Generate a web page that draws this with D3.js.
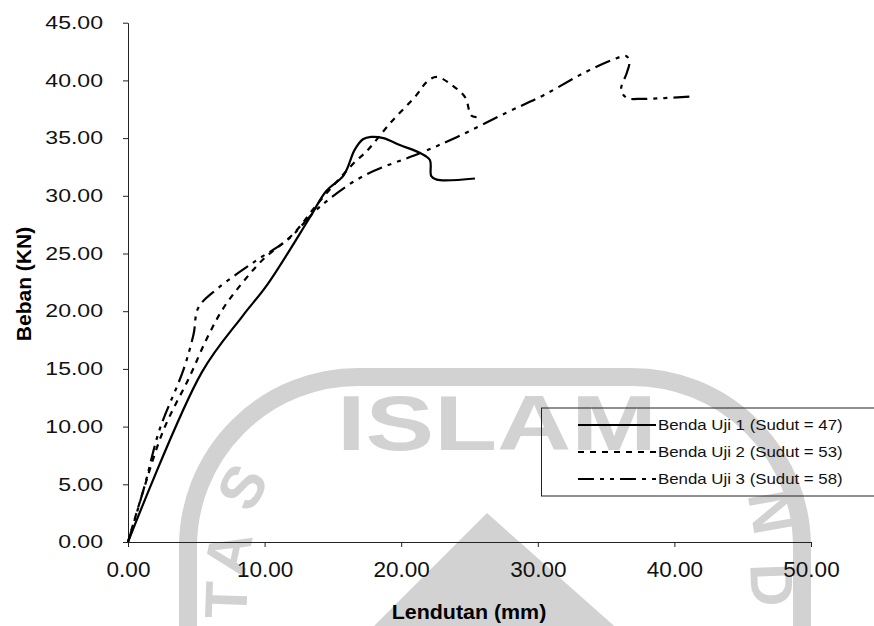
<!DOCTYPE html>
<html>
<head>
<meta charset="utf-8">
<script src="https://cdn.jsdelivr.net/npm/d3@7"></script>
<style>
  body { margin: 0; background: #fff; }
  text { font-family: "Liberation Sans", Arial, sans-serif; }
</style>
</head>
<body>
<div id="chart"></div>
<script>
// chart size
var w = 874;
var h = 626;

// data: deflection (mm) / load (kN)
var s1x = [0, 5.4, 8.4, 10.2, 13.3, 14.5, 15.8, 16.6, 17.2, 17.8, 18.7, 19.9, 21.4, 22.1, 22.2, 22.6, 25.4];
var s1y = [0, 14.7, 19.6, 22.3, 28.1, 30.4, 31.8, 34.0, 34.9, 35.1, 35.0, 34.4, 33.7, 33.1, 31.7, 31.4, 31.5];

var s2x = [0, 0.9, 2.6, 4.5, 5.8, 7.0, 8.4, 9.9, 12.1, 13.8, 16.5, 17.5, 19.2, 21.1, 21.9, 22.6, 23.7, 24.7, 25.0, 25.2, 25.8];
var s2y = [0, 3.6, 9.7, 14.3, 17.7, 20.3, 22.5, 24.5, 26.7, 29.2, 32.8, 33.9, 36.3, 38.7, 39.9, 40.3, 39.6, 38.5, 37.3, 36.9, 36.8];

var s3x = [0, 1.2, 2.3, 4.05, 4.8, 5.15, 6.6, 9.4, 11.7, 14.0, 17.2, 21.4, 24.1, 27.7, 30.4, 33.3, 35.5, 36.5, 36.7, 36.5, 36.1, 36.5, 37.7, 41.1];
var s3y = [0, 4.8, 9.7, 14.9, 18.0, 20.3, 22.0, 24.4, 26.2, 29.0, 31.7, 33.7, 35.1, 37.2, 38.7, 40.6, 41.8, 42.1, 41.5, 40.6, 39.2, 38.5, 38.4, 38.6];

var names = ["Benda Uji 1 (Sudut = 47)", "Benda Uji 2 (Sudut = 53)", "Benda Uji 3 (Sudut = 58)"];
var xTicks = [0, 10, 20, 30, 40, 50];
var yTicks = [0, 5, 10, 15, 20, 25, 30, 35, 40, 45];

var dashes = [null, "6,6", "16,6,4,6,4,6"];

function pts(xs, ys) {
  return xs.map(function(v, i) { return [v, ys[i]]; });
}
var series = [pts(s1x, s1y), pts(s2x, s2y), pts(s3x, s3y)];

// scan text is stretched sideways a bit
function stretch(sel, k) {
  sel.each(function() {
    var len = this.getComputedTextLength();
    d3.select(this).attr("textLength", len * k).attr("lengthAdjust", "spacingAndGlyphs");
  });
}

var svg = d3.select("#chart").append("svg")
    .attr("width", w)
    .attr("height", h);

// faint watermark from the scanned page
var wm = svg.append("g").attr("fill", "#d2d2d2").attr("stroke", "none");
wm.append("path")
  .attr("d", "M188,640 L188,547 A170,170 0 0 1 358,377 L632,377 A170,170 0 0 1 802,547 L802,640")
  .attr("fill", "none").attr("stroke", "#d2d2d2").attr("stroke-width", 18);
wm.append("path").attr("d", "M360,640 L487,513 L630,640 Z");
wm.append("text").attr("x", 337).attr("y", 450)
  .attr("font-size", 77).attr("font-weight", "bold").text("ISLAM")
  .attr("textLength", 320).attr("lengthAdjust", "spacingAndGlyphs");
[["S", 242, 487, -60], ["A", 228, 553, -78], ["T", 226, 600, -88], ["N", 772, 512, 80], ["D", 772, 585, 88]]
  .forEach(function(l) {
    wm.append("text")
      .attr("transform", "translate(" + l[1] + "," + l[2] + ") rotate(" + l[3] + ")")
      .attr("text-anchor", "middle").attr("dy", "0.35em")
      .attr("font-size", 60).attr("font-weight", "bold").text(l[0]);
  });

// scales
var x = d3.scaleLinear().domain([0, 50]).range([128, 811]);
var y = d3.scaleLinear().domain([0, 45]).range([542, 22.7]);

// axes
var gx = svg.append("g").attr("transform", "translate(0," + y(0) + ")")
  .call(d3.axisBottom(x).tickValues(xTicks).tickFormat(d3.format(".2f")).tickSize(5).tickSizeOuter(0).tickPadding(14));
gx.select(".domain").attr("stroke", "#222");
gx.selectAll(".tick line").attr("stroke", "#222");
gx.selectAll("text").attr("font-size", 22.5).attr("fill", "#111").attr("font-family", null);

var gy = svg.append("g").attr("transform", "translate(" + x(0) + ",0)")
  .call(d3.axisLeft(y).tickValues(yTicks).tickFormat(d3.format(".2f")).tickSize(5).tickSizeOuter(0).tickPadding(20));
gy.select(".domain").attr("stroke", "#222");
gy.selectAll(".tick line").attr("stroke", "#222");
gy.selectAll("text").attr("font-size", 18).attr("fill", "#111").attr("font-family", null);
stretch(gy.selectAll("text"), 1.28);

// axis titles
svg.append("text")
  .attr("x", 469).attr("y", 619)
  .attr("text-anchor", "middle")
  .attr("font-size", 20).attr("font-weight", "bold")
  .text("Lendutan (mm)")
  .call(stretch, 1.07);

svg.append("text")
  .attr("transform", "translate(31,284) rotate(-90)")
  .attr("text-anchor", "middle")
  .attr("font-size", 21).attr("font-weight", "bold")
  .text("Beban (KN)");

// curves
var line = d3.line()
  .x(function(d) { return x(d[0]); })
  .y(function(d) { return y(d[1]); })
  .curve(d3.curveCatmullRom.alpha(0.5));

svg.selectAll("path.series").data(series).enter().append("path")
  .attr("class", "series")
  .attr("d", line)
  .attr("fill", "none")
  .attr("stroke", "#000")
  .attr("stroke-width", 2.2)
  .attr("stroke-dasharray", function(d, i) { return dashes[i]; });

// legend
var lg = svg.append("g");
lg.append("rect")
  .attr("x", 541.5).attr("y", 408)
  .attr("width", 345).attr("height", 88)
  .attr("fill", "none").attr("stroke", "#222").attr("stroke-width", 1);

var rows = lg.selectAll("g.row").data(names).enter().append("g")
  .attr("class", "row")
  .attr("transform", function(d, i) { return "translate(0," + (425 + i * 27) + ")"; });

rows.append("line")
  .attr("x1", 578).attr("x2", 656)
  .attr("stroke", "#000").attr("stroke-width", 2.2)
  .attr("stroke-dasharray", function(d, i) { return dashes[i]; });

rows.append("text")
  .attr("x", 658).attr("dy", "0.36em")
  .attr("font-size", 14.5).attr("fill", "#111")
  .text(function(d) { return d; })
  .call(stretch, 1.16);
</script>
</body>
</html>
